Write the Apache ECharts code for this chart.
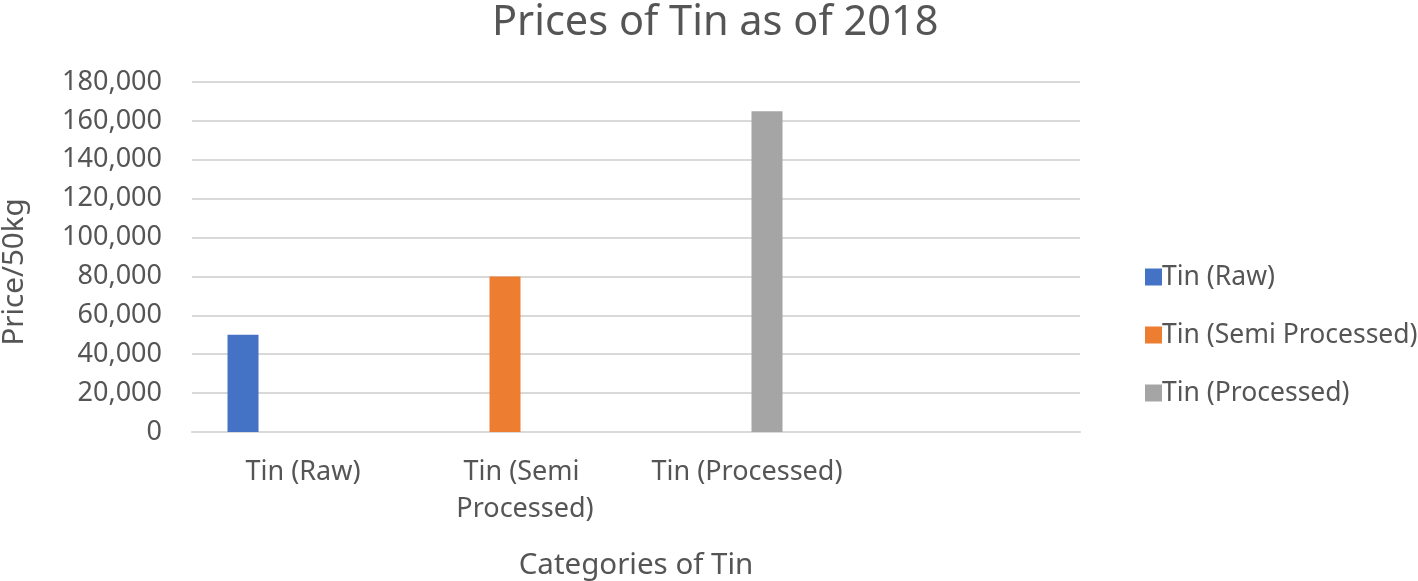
<!DOCTYPE html>
<html>
<head>
<meta charset="utf-8">
<script src="https://cdn.jsdelivr.net/npm/echarts@6/dist/echarts.min.js"></script>
<style>
html,body{margin:0;padding:0;background:#fff;}
#chart{width:1418px;height:581px;}
</style>
</head>
<body>
<div id="chart"></div>
<script>
const categories = ['Tin (Raw)', 'Tin (Semi Processed)', 'Tin (Processed)', ''];
const seriesNames = ['Tin (Raw)', 'Tin (Semi Processed)', 'Tin (Processed)'];
const rawValues = [50000, null, null, null];
const semiValues = [null, 80000, null, null];
const processedValues = [null, null, 165000, null];
const emptyValues = [null, null, null, null];
const yTicks = { min: 0, max: 180000, interval: 20000 };

const FONT = '"Noto Sans", sans-serif';
const TXT = '#555555';
const colors = ['#4472C4', '#ED7D31', '#A5A5A5', '#FFC000'];

const chart = echarts.init(document.getElementById('chart'), null, { renderer: 'canvas' });
const valueSets = [rawValues, semiValues, processedValues, emptyValues];
const series = valueSets.map((vals, i) => ({
  name: i < seriesNames.length ? seriesNames[i] : 'extra',
  type: 'bar',
  data: vals,
  barWidth: 31,
  barGap: '29%',
  itemStyle: { color: colors[i] },
  emphasis: { disabled: true }
}));

chart.setOption({
  animation: false,
  textStyle: { fontFamily: FONT, color: TXT },
  title: {
    text: 'Prices of Tin as of 2018',
    left: 492,
    top: 2,
    padding: 0,
    textStyle: { fontFamily: FONT, fontSize: 41.5, fontWeight: 'normal', color: TXT }
  },
  legend: {
    data: seriesNames,
    orient: 'vertical',
    left: 1140,
    top: 257,
    itemWidth: 17,
    itemHeight: 17,
    itemGap: 28,
    icon: 'rect',
    textStyle: { fontFamily: FONT, fontSize: 26.5, color: TXT, lineHeight: 30, padding: [0, 0, 0, -5] }
  },
  grid: { left: 192, right: 338, top: 82, bottom: 149, containLabel: false, outerBoundsMode: 'none' },
  xAxis: {
    type: 'category',
    data: categories,
    name: 'Categories of Tin',
    nameLocation: 'middle',
    nameGap: 119,
    nameTextStyle: { fontFamily: FONT, fontSize: 29.5, color: TXT },
    axisLine: { show: true, lineStyle: { color: '#D9D9D9', width: 2 } },
    axisTick: { show: false },
    axisLabel: {
      interval: 0,
      margin: 22,
      fontFamily: FONT,
      fontSize: 27,
      color: TXT,
      lineHeight: 37,
      width: 210,
      overflow: 'break'
    }
  },
  yAxis: {
    type: 'value',
    min: yTicks.min,
    max: yTicks.max,
    interval: yTicks.interval,
    name: 'Price/50kg',
    nameLocation: 'middle',
    nameGap: 162,
    nameTextStyle: { fontFamily: FONT, fontSize: 29.5, color: TXT, padding: [0, 30, 0, 0] },
    axisLine: { show: false },
    axisTick: { show: false },
    splitLine: { lineStyle: { color: '#D9D9D9', width: 2 } },
    axisLabel: {
      margin: 30,
      fontFamily: FONT,
      fontSize: 27,
      color: TXT,
      formatter: v => v.toLocaleString('en-US')
    }
  },
  series: series
});
</script>
</body>
</html>
